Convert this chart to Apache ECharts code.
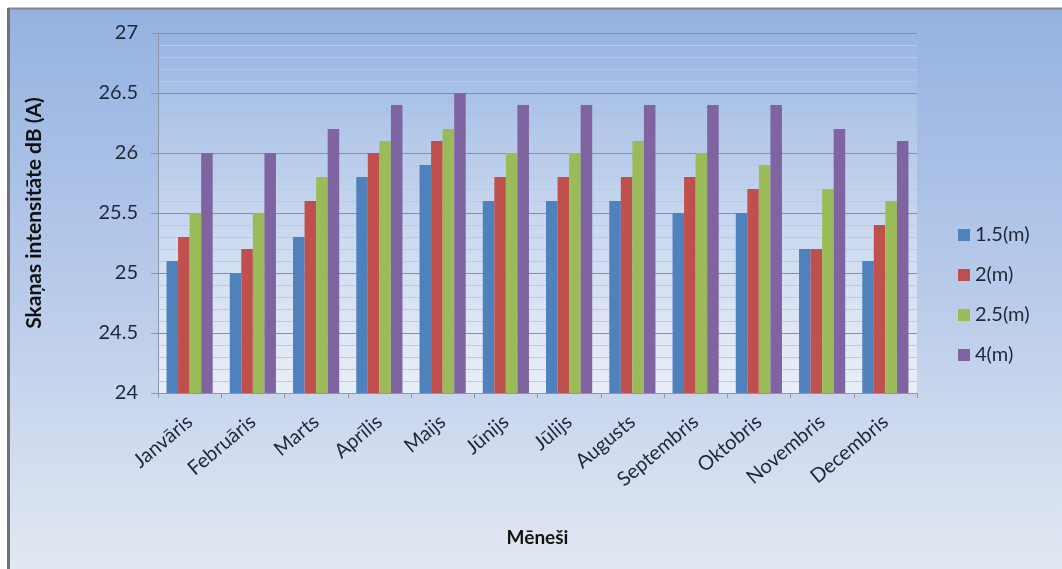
<!DOCTYPE html>
<html>
<head>
<meta charset="utf-8">
<script src="https://cdn.jsdelivr.net/npm/echarts@6/dist/echarts.min.js"></script>
<style>
  html, body { margin: 0; padding: 0; background: #ffffff; }
  #chart { width: 1062px; height: 569px; }
</style>
</head>
<body>
<div id="chart"></div>
<script>
// Months on the category axis
const months = ['Janvāris', 'Februāris', 'Marts', 'Aprīlis', 'Maijs', 'Jūnijs',
                'Jūlijs', 'Augusts', 'Septembris', 'Oktobris', 'Novembris', 'Decembris'];

// Series names (measurement distance)
const seriesNames = ['1.5(m)', '2(m)', '2.5(m)', '4(m)'];

// Sound intensity, dB (A), per month for each distance
const d15 = [25.1, 25.0, 25.3, 25.8, 25.9, 25.6, 25.6, 25.6, 25.5, 25.5, 25.2, 25.1];
const d2  = [25.3, 25.2, 25.6, 26.0, 26.1, 25.8, 25.8, 25.8, 25.8, 25.7, 25.2, 25.4];
const d25 = [25.5, 25.5, 25.8, 26.1, 26.2, 26.0, 26.0, 26.1, 26.0, 25.9, 25.7, 25.6];
const d4  = [26.0, 26.0, 26.2, 26.4, 26.5, 26.4, 26.4, 26.4, 26.4, 26.4, 26.2, 26.1];

const values = [d15, d2, d25, d4];
const colors = ['#4f81bd', '#c0504d', '#9bbb59', '#8064a2'];

const FONT = 'Lato, "Open Sans", sans-serif';
const TEXT = '#1e2638';

const chart = echarts.init(document.getElementById('chart'), null, { renderer: 'canvas' });

chart.setOption({
  animation: false,
  backgroundColor: '#ffffff',
  textStyle: { fontFamily: FONT },
  graphic: [
    {
      type: 'rect', z: -10, silent: true,
      shape: { x: 8, y: 8, width: 1060, height: 570 },
      style: {
        fill: new echarts.graphic.LinearGradient(0, 0, 0, 1, [
          { offset: 0, color: '#94b2e1' },
          { offset: 0.5, color: '#b9cbea' },
          { offset: 1, color: '#e3e9f3' }
        ])
      }
    },
    { type: 'line', z: -9, silent: true, shape: { x1: 8, y1: 8.5, x2: 1062, y2: 8.5 },
      style: { stroke: '#7d8794', lineWidth: 2 } },
    { type: 'line', z: -9, silent: true, shape: { x1: 8.5, y1: 8, x2: 8.5, y2: 569 },
      style: { stroke: '#6f7378', lineWidth: 3 } }
  ],
  grid: {
    left: 158, right: 145, top: 33, bottom: 176,
    show: true, borderWidth: 0,
    backgroundColor: new echarts.graphic.LinearGradient(0, 0, 0, 1, [
      { offset: 0, color: 'rgba(255,255,255,0)' },
      { offset: 1, color: 'rgba(255,255,255,0.6)' }
    ])
  },
  legend: {
    orient: 'vertical',
    left: 953, top: 220,
    itemWidth: 12, itemHeight: 12, itemGap: 20,
    icon: 'rect',
    textStyle: { fontFamily: FONT, fontSize: 20, color: TEXT },
    data: seriesNames
  },
  xAxis: {
    type: 'category',
    data: months,
    name: 'Mēneši',
    nameLocation: 'middle',
    nameGap: 135,
    nameTextStyle: { fontFamily: FONT, fontSize: 19, fontWeight: 'bold', color: '#111111' },
    axisLine: { show: true, lineStyle: { color: '#8a96a8', width: 1 } },
    axisTick: { show: true, length: 5, lineStyle: { color: '#8a96a8' } },
    axisLabel: {
      rotate: 40, margin: 26, interval: 0,
      fontFamily: FONT, fontSize: 20, color: TEXT
    },
    splitLine: { show: false }
  },
  yAxis: {
    type: 'value',
    min: 24, max: 27, interval: 0.5,
    name: 'Skaņas intensitāte dB (A)',
    nameLocation: 'middle',
    nameGap: 113,
    nameTextStyle: { fontFamily: FONT, fontSize: 21, fontWeight: 'bold', color: '#111111' },
    axisLine: { show: true, lineStyle: { color: '#8a96a8', width: 1 } },
    axisTick: { show: true, length: 7, lineStyle: { color: '#8a96a8' } },
    axisLabel: { margin: 20, fontFamily: FONT, fontSize: 20, color: TEXT },
    splitLine: { show: true, lineStyle: { color: '#8390a4', width: 1 } },
    minorTick: { show: false, splitNumber: 5 },
    minorSplitLine: { show: true, lineStyle: { color: '#bccadc', width: 1 } }
  },
  series: seriesNames.map((name, i) => ({
    name: name,
    type: 'bar',
    data: values[i],
    barGap: '0%',
    barCategoryGap: '27%',
    itemStyle: { color: colors[i] }
  }))
});
</script>
</body>
</html>
